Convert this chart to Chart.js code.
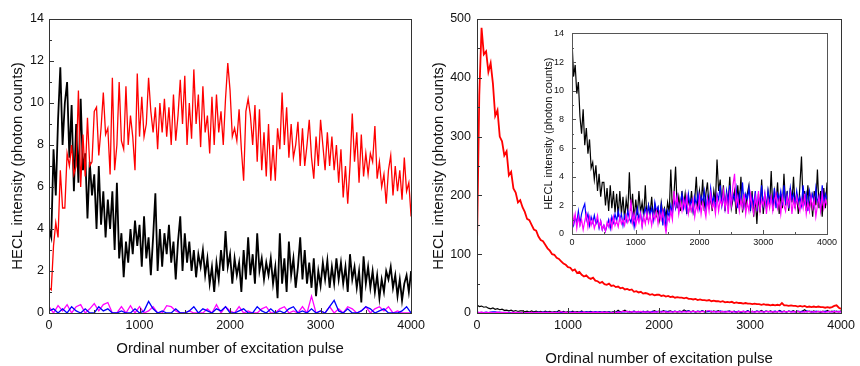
<!DOCTYPE html>
<html>
<head>
<meta charset="utf-8">
<script src="https://cdn.jsdelivr.net/npm/chart.js@4.4.1/dist/chart.umd.min.js"></script>
<style>
  html, body { margin: 0; padding: 0; background: #fff; }
  #wrap { position: relative; width: 860px; height: 366px; overflow: hidden; }
  canvas { position: absolute; }
</style>
</head>
<body>
<div id="wrap">
  <canvas id="left" width="430" height="366" style="left:0;top:0"></canvas>
  <canvas id="right" width="430" height="366" style="left:430px;top:0"></canvas>
  <canvas id="inset" width="300" height="230" style="left:540px;top:20px"></canvas>
</div>
<script>
// pulse spacing of the sampled values
const STEP = 25;
const STEP_LOW = 50;

const xTicks = [0, 1000, 2000, 3000, 4000];
const leftYTicks = [0, 2, 4, 6, 8, 10, 12, 14];
const rightYTicks = [0, 100, 200, 300, 400, 500];
const insetYTicks = [0, 2, 4, 6, 8, 10, 12, 14];

// left panel
const leftRed = [
  1.2,1.1,3.2,4.3,3.6,6.8,5.0,5.0,7.6,7.0,
  8.0,6.6,7.0,10.6,6.0,8.5,6.5,9.3,7.0,7.2,
  9.6,9.8,7.5,8.8,10.5,8.5,8.8,6.6,11.2,6.8,
  8.0,11.0,8.2,7.8,10.8,8.0,9.4,8.4,6.8,11.4,
  8.4,10.3,8.4,9.0,11.2,9.6,8.6,9.8,7.8,10.0,
  8.6,10.2,8.4,9.8,8.0,10.4,8.2,9.4,11.1,9.0,
  11.3,8.0,10.0,8.3,11.6,9.0,10.4,7.9,10.8,8.6,
  9.4,7.6,10.3,8.0,10.4,8.6,9.6,8.0,10.2,11.9,
  10.6,8.4,8.8,8.2,9.7,7.8,6.3,9.6,10.2,9.4,
  8.0,9.9,7.2,9.7,6.8,8.6,6.5,9.0,6.3,8.0,
  6.3,8.8,7.8,10.5,8.0,9.8,7.4,9.0,7.4,8.0,
  9.1,7.0,8.8,7.0,8.0,9.2,7.4,6.4,8.4,7.0,
  9.2,8.0,6.8,8.6,7.0,8.4,6.8,8.0,6.2,7.8,
  5.5,7.0,5.2,7.0,9.5,7.2,8.6,6.2,8.5,6.5,
  7.6,6.6,7.6,7.2,8.9,6.4,7.2,6.0,6.6,5.2,
  6.8,7.5,5.6,7.0,5.8,6.8,5.4,7.4,5.8,6.2,
  4.6
];
const leftBlack = [
  4.0,3.6,7.8,5.6,9.2,11.7,8.0,10.0,11.0,7.4,
  9.9,5.8,9.0,6.2,10.2,6.8,7.6,4.5,7.2,5.6,
  6.6,4.0,7.0,4.2,5.8,3.6,5.4,4.0,5.8,3.0,
  6.2,2.6,3.8,1.7,3.4,2.4,4.0,2.8,4.4,3.2,
  4.2,2.2,4.6,2.6,3.6,1.8,3.6,5.7,2.0,4.0,
  2.2,3.8,2.8,4.2,2.4,3.4,1.6,3.4,4.6,2.0,
  3.8,2.4,3.4,2.0,3.0,1.7,2.8,2.2,3.0,1.8,
  2.6,1.4,2.2,1.0,2.4,1.6,3.0,2.0,3.9,2.2,
  2.8,1.4,2.6,1.8,2.4,1.0,3.0,1.6,3.6,1.8,
  2.8,1.4,3.8,2.0,2.6,1.6,2.4,1.8,2.6,1.4,
  2.2,0.7,3.8,1.4,2.6,1.0,3.4,1.8,2.6,1.2,
  2.2,3.6,1.6,3.0,1.4,2.4,1.2,2.6,0.8,2.0,
  1.3,2.4,1.6,2.5,1.2,2.2,1.4,2.6,1.6,2.4,
  1.4,2.2,1.0,2.8,1.6,2.2,1.2,2.0,0.5,2.7,
  1.4,2.2,1.2,2.0,1.0,1.8,0.7,1.6,1.0,2.0,
  1.6,2.2,1.2,1.8,0.8,1.6,0.6,1.4,1.8,1.0,
  2.0
];
const leftBlue = [
  0.1,0.2,0,0.2,0,0.3,0.1,0,0.2,0,
  0,0.3,0.1,0.2,0,0,0.1,0,0,0.2,
  0,0.1,0.55,0.2,0,0.1,0,0,0.2,0,
  0,0.1,0.3,0,0.2,0.1,0,0.2,0.1,0.3,
  0,0,0.1,0.2,0,0,0.3,0.1,0,0.2,
  0,0.1,0,0.2,0.3,0,0.1,0,0.2,0,
  0.1,0,0.3,0.6,0.1,0,0.2,0,0,0.1,
  0.3,0.2,0,0.1,0.2,0,0,0,0.1,0.3,
  0
];
const leftMagenta = [
  0.3,0,0.35,0.1,0.4,0,0.3,0.4,0,0.2,
  0.45,0.1,0.4,0.5,0,0,0.3,0,0.35,0,
  0.3,0,0.1,0.3,0,0,0.35,0.3,0.1,0,
  0,0.1,0,0,0,0.2,0,0.4,0,0.3,
  0.1,0,0.3,0,0.1,0,0,0.2,0.3,0,
  0,0.2,0.3,0,0.1,0,0.3,0,0.8,0,
  0.1,0,0.3,0,0.2,0,0.3,0.2,0,0.1,
  0.3,0,0.2,0.3,0.1,0.3,0,0.1,0,0,
  0
];

// right panel (black, blue and magenta are the same runs as in the inset)
const rightRed = [
  115,370,485,440,445,410,425,390,335,345,
  300,292,268,275,234,240,212,205,188,192,
  180,172,160,158,150,142,140,130,124,122,
  116,110,106,100,99,94,92,88,84,82,
  78,77,72,74,68,70,65,62,64,60,
  58,60,55,54,51,53,49,48,50,46,
  47,44,45,42,43,40,41,39,40,36,
  37,35,36,33,34,33,31,32,30,31,
  31,29,30,28,29,27,28,26,27,26,
  26,25,26,24,24,23,24,22,23,22,
  22,21,22,20,21,20,20,19,20,18,
  19,18,19,17,18,17,17,16,17,16,
  16,15,16,15,15,14,15,14,14,13,
  14,13,14,13,17,13,13,12,13,12,
  12,11,12,11,12,10,11,10,11,10,
  11,10,10,9,10,9,10,12,13,9,
  7
];
const insetBlack = [
  13.5,11.0,11.8,9.8,10.6,8.2,7.0,8.7,6.2,7.4,
  5.6,6.6,4.6,5.0,3.8,4.8,3.0,4.2,2.6,3.6,
  3.6,2.0,3.2,1.6,3.4,1.8,3.0,1.5,2.8,1.2,
  3.0,1.4,2.6,1.0,2.4,1.5,4.3,1.6,2.8,1.0,
  2.4,1.3,3.0,1.5,2.2,1.2,3.4,1.0,2.0,1.4,
  2.6,1.1,2.0,1.3,1.8,1.0,2.2,1.4,1.8,1.2,
  2.2,1.5,4.5,1.6,2.8,4.7,1.8,2.6,1.6,3.0,
  2.0,2.8,1.4,2.6,1.8,3.0,1.6,2.4,4.0,1.8,
  3.0,2.0,3.8,1.6,2.8,3.6,1.8,2.6,1.6,3.0,
  2.2,5.2,3.0,3.8,2.0,3.4,1.6,2.8,2.2,4.0,
  1.8,2.4,3.0,1.4,3.4,2.0,4.0,1.5,2.6,1.8,
  2.8,3.4,1.6,3.0,1.2,2.6,0.7,2.8,1.5,3.8,
  1.4,2.6,1.8,3.0,2.0,4.4,1.6,3.0,2.2,3.6,
  1.4,2.8,1.8,4.2,2.0,3.0,1.6,3.2,2.2,4.0,
  1.8,2.8,1.4,3.4,5.4,2.0,3.0,1.6,3.4,1.8,
  2.6,1.2,3.0,2.0,4.5,1.8,3.0,1.2,3.2,1.8,
  3.6
];
const insetBlue = [
  1.0,0.6,1.2,0.8,1.6,0.7,1.4,1.8,2.1,1.0,
  1.4,0.6,1.2,0.8,1.3,0.7,1.0,0.4,0.9,0.3,
  0.6,0.2,0.6,1.0,0.4,1.2,0.8,1.4,0.9,1.6,
  1.0,1.4,0.6,1.3,0.9,1.6,1.1,0.8,1.4,0.5,
  1.2,1.8,1.0,1.5,0.6,1.4,1.8,1.2,2.0,1.4,
  1.8,1.0,2.2,1.6,1.9,1.2,2.0,0.6,1.8,0.2,
  1.6,1.2,2.0,1.4,2.4,1.8,2.6,1.6,2.2,2.8,
  1.8,2.4,1.6,2.8,2.0,2.4,1.6,2.6,2.0,2.8,
  1.8,2.6,2.2,3.0,1.8,2.6,2.0,3.2,2.2,2.6,
  1.8,2.8,2.4,3.4,2.0,2.8,1.8,3.0,2.2,3.4,
  2.0,2.8,2.4,3.2,1.8,2.8,2.2,3.6,2.0,2.8,
  2.4,3.2,1.8,2.6,2.0,3.0,1.6,2.6,2.2,3.4,
  2.0,2.8,1.8,3.0,2.2,2.6,2.0,3.2,1.8,2.8,
  2.4,3.0,2.0,3.4,2.2,2.8,1.8,3.2,2.4,2.8,
  2.0,3.0,2.2,2.6,2.0,3.4,2.2,2.8,1.6,3.0,
  2.4,2.8,2.0,3.2,2.2,2.6,1.8,3.4,2.2,2.8,
  2.4
];
const insetMagenta = [
  1.8,0.8,1.4,0.4,1.2,0.6,1.0,0.3,0.9,1.4,
  0.5,1.2,0.6,1.0,0.4,0.8,1.3,0.5,0.9,0.3,
  0.6,0.2,0.8,0.5,1.0,0.4,1.2,0.6,0.9,0.5,
  1.2,0.7,1.0,0.6,1.3,0.8,1.1,2.4,0.8,1.4,
  0.6,1.2,0.8,1.4,0.5,1.2,0.7,1.5,0.8,1.3,
  0.6,1.4,1.0,1.6,0.7,1.5,1.0,1.6,0.8,0.1,
  1.2,0.9,1.6,1.0,3.0,2.0,2.6,1.4,2.2,1.6,
  2.4,1.8,2.6,1.4,2.0,1.6,2.4,1.2,2.0,1.6,
  2.6,1.4,2.2,1.8,1.2,2.4,1.6,2.8,1.8,2.2,
  1.4,2.6,1.6,2.4,2.0,3.0,1.8,2.6,1.4,2.8,
  2.0,3.4,4.2,2.0,2.6,1.6,2.4,1.8,2.8,1.4,
  2.2,1.6,2.8,2.0,1.4,2.6,1.8,3.0,1.6,2.4,
  2.0,2.8,1.4,2.4,1.8,2.6,1.6,2.2,2.8,1.8,
  2.4,1.4,2.6,2.0,1.6,2.6,2.0,2.8,1.4,2.4,
  1.8,2.6,2.0,1.6,2.4,1.8,2.8,1.4,2.2,1.6,
  2.6,1.8,2.4,1.2,2.0,2.6,1.6,2.8,1.8,2.4,
  2.0
];

const FONT = "'Liberation Sans', Arial, sans-serif";
const RED = '#ff0000', BLACK = '#000000', BLUE = '#0000ff', MAGENTA = '#ff00ff';

function pts(values, step) {
  return values.map((v, i) => ({ x: i * step, y: v }));
}

function line(values, step, color, width) {
  return { data: pts(values, step), borderColor: color, borderWidth: width, pointRadius: 0, tension: 0, fill: false };
}

// box round the plot area with inward tick marks on the bottom and left sides
const frame = {
  id: 'frame',
  afterDatasetsDraw(chart, args, opt) {
    const { ctx, chartArea: a, scales: { x, y } } = chart;
    ctx.save();
    ctx.strokeStyle = opt.color;
    ctx.lineWidth = 1;
    ctx.beginPath();
    for (let v = x.min; v <= x.max; v += opt.xMinor) {
      const len = v % opt.xMajor === 0 ? opt.major : opt.minor;
      const px = Math.round(x.getPixelForValue(v)) + 0.5;
      ctx.moveTo(px, a.bottom); ctx.lineTo(px, a.bottom - len);
    }
    for (let v = y.min; v <= y.max; v += opt.yMinor) {
      const len = v % opt.yMajor === 0 ? opt.major : opt.minor;
      const py = Math.round(y.getPixelForValue(v)) + 0.5;
      ctx.moveTo(a.left, py); ctx.lineTo(a.left + len, py);
    }
    ctx.stroke();
    ctx.strokeRect(Math.round(a.left) + 0.5, Math.round(a.top) + 0.5, Math.round(a.right - a.left), Math.round(a.bottom - a.top));
    ctx.restore();
  }
};

function scales(o) {
  return {
    x: {
      type: 'linear', min: 0, max: 4000,
      afterBuildTicks: s => { s.ticks = xTicks.map(v => ({ value: v })); },
      ticks: { color: '#111', font: { family: FONT, size: o.tickSize }, padding: o.xPad, maxRotation: 0, callback: v => String(v) },
      grid: { display: false, drawTicks: false }, border: { display: false },
      title: o.xTitle ? { display: true, text: 'Ordinal number of excitation pulse', color: '#111',
        font: { family: FONT, size: 15, lineHeight: 1 }, padding: { top: 0, bottom: o.xTitlePad } } : { display: false },
      afterFit: s => { s.height = o.xHeight; }
    },
    y: {
      type: 'linear', min: 0, max: o.yTicks[o.yTicks.length - 1],
      afterBuildTicks: s => { s.ticks = o.yTicks.map(v => ({ value: v })); },
      ticks: { color: '#111', font: { family: FONT, size: o.tickSize }, padding: o.yPad, callback: v => String(v) },
      grid: { display: false, drawTicks: false }, border: { display: false },
      title: { display: true, text: 'HECL intensity (photon counts)', color: '#111',
        font: { family: FONT, size: o.yTitleSize, lineHeight: 1 }, padding: { top: o.yTitlePad, bottom: 0 } },
      afterFit: s => { s.width = o.yWidth; }
    }
  };
}

const common = {
  responsive: false, animation: false, events: [],
  plugins: { legend: { display: false }, tooltip: { enabled: false } }
};

new Chart(document.getElementById('left'), {
  type: 'line',
  data: {
    datasets: [
      line(leftRed, STEP, RED, 1.3),
      line(leftBlack, STEP, BLACK, 1.8),
      line(leftBlue, STEP_LOW, BLUE, 1.3),
      line(leftMagenta, STEP_LOW, MAGENTA, 1.3)
    ]
  },
  options: {
    ...common,
    layout: { padding: { left: 0, top: 19, right: 13, bottom: 0 } },
    scales: scales({ yTicks: leftYTicks, tickSize: 12.5, xPad: 5, yPad: 5, xTitle: true, xTitlePad: 9.5,
      xHeight: 53, yWidth: 49, yTitleSize: 15, yTitlePad: 10.5 }),
    plugins: { ...common.plugins, frame: { color: '#333', xMajor: 1000, xMinor: 500, yMajor: 2, yMinor: 1, major: 5, minor: 3 } }
  },
  plugins: [frame]
});

new Chart(document.getElementById('right'), {
  type: 'line',
  data: {
    datasets: [
      line(rightRed, STEP, RED, 1.8),
      line(insetMagenta, STEP, MAGENTA, 1.2),
      line(insetBlue, STEP, BLUE, 1.2),
      line(insetBlack, STEP, BLACK, 1.2)
    ]
  },
  options: {
    ...common,
    layout: { padding: { left: 0, top: 19, right: 14, bottom: 0 } },
    scales: scales({ yTicks: rightYTicks, tickSize: 12.5, xPad: 5, yPad: 6, xTitle: true, xTitlePad: 0,
      xHeight: 53, yWidth: 47, yTitleSize: 15, yTitlePad: 1.5 }),
    plugins: { ...common.plugins, frame: { color: '#333', xMajor: 1000, xMinor: 500, yMajor: 100, yMinor: 50, major: 5, minor: 3 } }
  },
  plugins: [frame]
});

new Chart(document.getElementById('inset'), {
  type: 'line',
  data: {
    datasets: [
      line(insetMagenta, STEP, MAGENTA, 1.2),
      line(insetBlue, STEP, BLUE, 1.2),
      line(insetBlack, STEP, BLACK, 1.2)
    ]
  },
  options: {
    ...common,
    layout: { padding: { left: 0, top: 7, right: 12, bottom: 0 } },
    scales: scales({ yTicks: insetYTicks, tickSize: 9, xPad: 3, yPad: 8, xTitle: false,
      xHeight: 16, yWidth: 32, yTitleSize: 11, yTitlePad: 3.5 }),
    plugins: { ...common.plugins, frame: { color: '#555', xMajor: 1000, xMinor: 500, yMajor: 2, yMinor: 1, major: 4, minor: 2 } }
  },
  plugins: [frame]
});
</script>
</body>
</html>
